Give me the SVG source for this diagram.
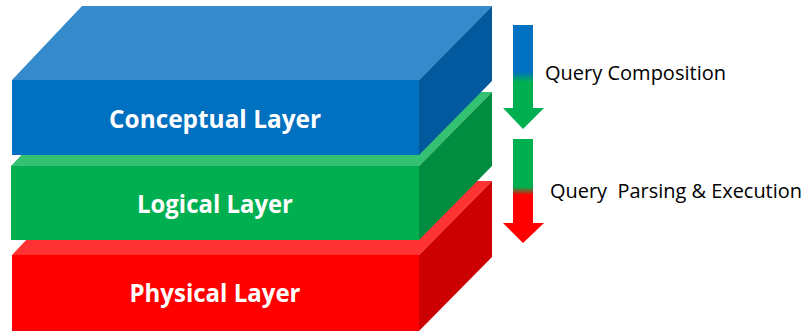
<svg xmlns="http://www.w3.org/2000/svg" width="804" height="331" viewBox="0 0 804 331">
  <style>
    .label { font-family: "Open Sans", "Liberation Sans", sans-serif; font-weight: bold; font-size: 25px; fill: #ffffff; text-anchor: middle; }
    .note { font-family: "Open Sans", "Liberation Sans", sans-serif; font-size: 20px; fill: #000000; }
  </style>
  <defs>
    <linearGradient id="gradBlueGreen" gradientUnits="userSpaceOnUse" x1="0" y1="25" x2="0" y2="129">
      <stop offset="0.45" stop-color="#0070C0"/>
      <stop offset="0.55" stop-color="#00B050"/>
    </linearGradient>
    <linearGradient id="gradGreenRed" gradientUnits="userSpaceOnUse" x1="0" y1="139" x2="0" y2="243">
      <stop offset="0.46" stop-color="#00B050"/>
      <stop offset="0.54" stop-color="#FF0000"/>
    </linearGradient>
  </defs>

  <rect width="804" height="331" fill="#ffffff"/>

  <!-- bottom slab -->
  <g id="physical-layer">
    <polygon points="12,255 82,181 492,181 419,255" fill="#FF3333"/>
    <polygon points="419,255 492,181 492,257 419,331" fill="#CC0000"/>
    <rect x="12" y="255" width="407" height="76" fill="#FF0000"/>
    <text class="label" x="215" y="302" textLength="171" lengthAdjust="spacingAndGlyphs">Physical Layer</text>
  </g>

  <!-- middle slab -->
  <g id="logical-layer">
    <polygon points="11,166 81,92 492,92 419,166" fill="#33C172"/>
    <polygon points="419,166 492,92 492,166 419,240" fill="#008D40"/>
    <rect x="11" y="166" width="408" height="74" fill="#00B050"/>
    <text class="label" x="215" y="213" textLength="156" lengthAdjust="spacingAndGlyphs">Logical Layer</text>
  </g>

  <!-- top slab -->
  <g id="conceptual-layer">
    <polygon points="12,80 82,6 492,6 419,80" fill="#358ACB"/>
    <polygon points="419,80 492,6 492,81 419,155" fill="#02599E"/>
    <rect x="12" y="80" width="407" height="75" fill="#0070C0"/>
    <text class="label" x="215" y="128" textLength="212" lengthAdjust="spacingAndGlyphs">Conceptual Layer</text>
  </g>

  <!-- flow arrows -->
  <g id="connectors">
    <path d="M513,25 H533 V108 H544 L523,129 L503,108 H513 Z" fill="url(#gradBlueGreen)"/>
    <path d="M513,139 H533 V223 H544 L523,243 L503,223 H513 Z" fill="url(#gradGreenRed)"/>
  </g>

  <g id="query-composition">
    <text class="note" x="545" y="80" textLength="181" lengthAdjust="spacingAndGlyphs">Query Composition</text>
  </g>
  <g id="query-parsing">
    <text class="note" x="550" y="198" xml:space="preserve" style="white-space:pre" textLength="252" lengthAdjust="spacingAndGlyphs">Query  Parsing &amp; Execution</text>
  </g>
</svg>
